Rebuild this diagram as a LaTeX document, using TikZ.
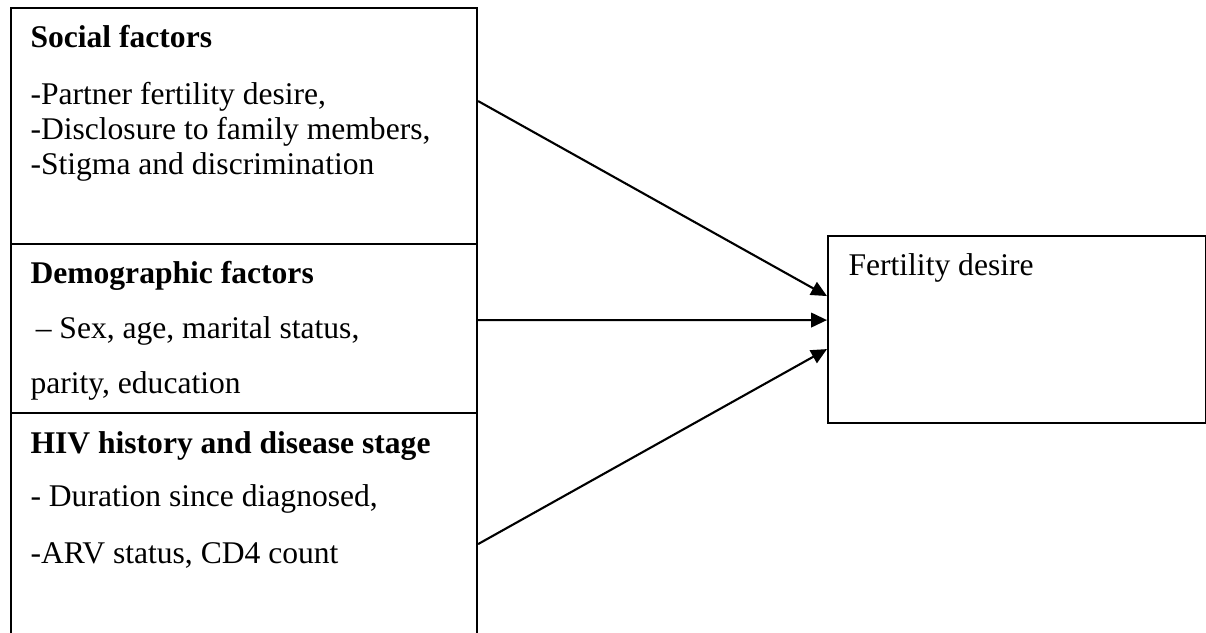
\documentclass[tikz,border=0pt]{standalone}
\usepackage{fontspec}
\setmainfont{Liberation Serif}
\usepackage{tikz}
\usetikzlibrary{arrows.meta}

\begin{document}
\begin{tikzpicture}[x=0.38pt, y=-0.38pt, every node/.style={font=\fontsize{12}{13.3}\selectfont}]
        % Define box and label styles
        \tikzstyle{block} = [rectangle, draw, line width=0.8pt, anchor=north west, inner sep=0pt]
        \tikzstyle{label} = [anchor=base west, align=left, inner sep=0pt]
        \tikzstyle{arrow} = [line width=0.8pt, -{Triangle[length=6pt,width=5.5pt]}]

        \useasboundingbox (0,0) rectangle (1206,632);

        % Factor boxes stacked on the left
        \node (social) [block, minimum width=177.08pt, minimum height=89.68pt] at (10,7) {};
        \node (demo) [block, minimum width=177.08pt, minimum height=64.22pt] at (10,243) {};
        \node (hiv) [block, minimum width=177.08pt, minimum height=88.54pt] at (10,412) {};
        % Outcome box
        \node (desire) [block, minimum width=143.64pt, minimum height=71.06pt] at (827,235) {};

        % Box texts (placed at the baseline of their last line)
        \node (sociallabel) [label] at (30,174) {\textbf{Social factors}\\[8pt]
            -Partner fertility desire,\\
            -Disclosure to family members,\\
            -Stigma and discrimination};
        \node (demolabel) [label] at (30,393) {\textbf{Demographic factors}\\[7.6pt]
            \hspace{2pt}– Sex, age, marital status,\\[7.6pt]
            parity, education};
        \node (hivlabel) [label] at (30,563) {\textbf{HIV history and disease stage}\\[7.2pt]
            - Duration since diagnosed,\\[8pt]
            -ARV status, CD4 count};
        \node (desirelabel) [label] at (848,275) {Fertility desire};

        % Arrows
        \draw [arrow] ([yshift=9.5pt]social.east) -- ([yshift=12.73pt]desire.west);
        \draw [arrow] ([yshift=3.23pt]demo.east) -- ([yshift=3.61pt]desire.west);
        \draw [arrow] ([yshift=-5.51pt]hiv.east) -- ([yshift=-7.41pt]desire.west);
    \end{tikzpicture}
\end{document}
